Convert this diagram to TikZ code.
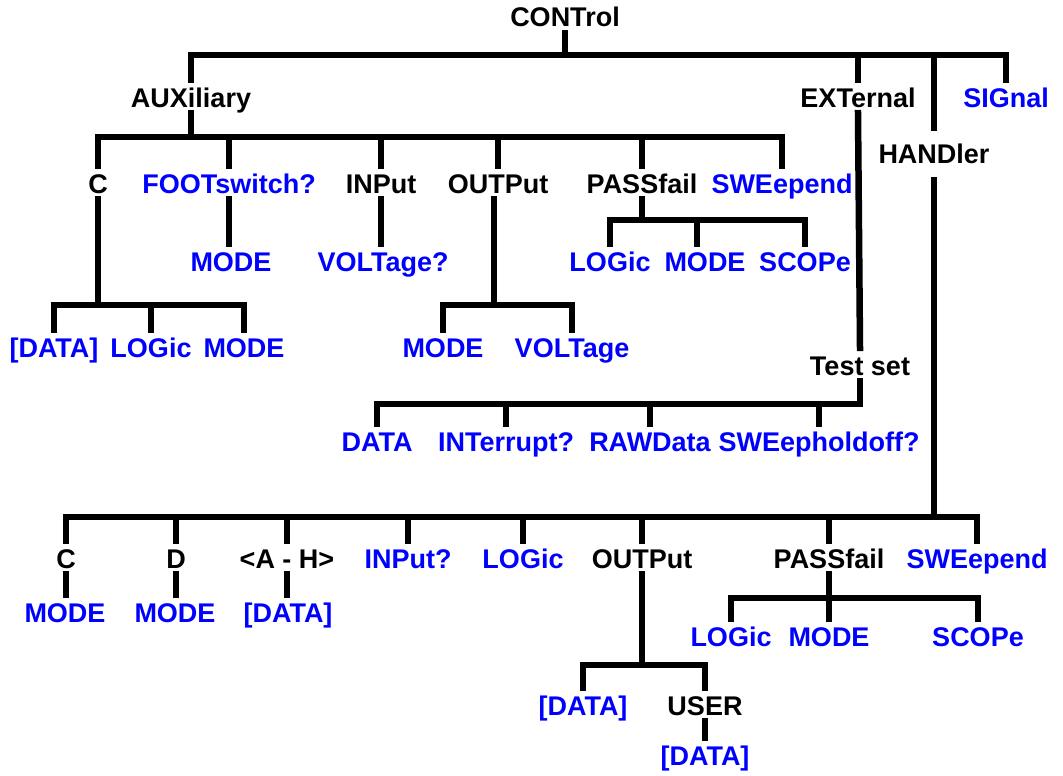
\documentclass[tikz,border=0pt]{standalone}
\usepackage{fontspec}
\setmainfont{Liberation Sans}
\tikzset{
  lab/.style={font=\bfseries\fontsize{27}{29}\selectfont, text height=27pt, text depth=6pt, inner xsep=0pt, inner ysep=0pt, anchor=base},
  kw/.style={lab, text=black},
  cmd/.style={lab, text=blue},
  wire/.style={line width=6.5pt, line cap=rect, line join=miter}
}
\begin{document}
\begin{tikzpicture}[x=1pt,y=-1pt]
\useasboundingbox (0,0) rectangle (1063,776);
% root
\node[kw] (ctrl) at (565,27) {CONTrol};
\node[kw] (aux) at (191,107) {AUXiliary};
\node[kw] (ext) at (858,107) {EXTernal};
\node[cmd] (sig) at (1006,107) {SIGnal};
\node[kw] (hand) at (934,163) {HANDler};
% AUXiliary children
\node[kw] (ac) at (98,193) {C};
\node[cmd] (afoot) at (229,193) {FOOTswitch?};
\node[kw] (ainp) at (381,193) {INPut};
\node[kw] (aout) at (498,193) {OUTPut};
\node[kw] (apass) at (642,193) {PASSfail};
\node[cmd] (asweep) at (782,193) {SWEepend};
\node[cmd] (afmode) at (231,271) {MODE};
\node[cmd] (ainvolt) at (383,271) {VOLTage?};
\node[cmd] (aplog) at (610,271) {LOGic};
\node[cmd] (apmode) at (705,271) {MODE};
\node[cmd] (apscope) at (805,271) {SCOPe};
\node[cmd] (acdata) at (54,357) {[DATA]};
\node[cmd] (aclog) at (151,357) {LOGic};
\node[cmd] (acmode) at (244,357) {MODE};
\node[cmd] (aomode) at (443,357) {MODE};
\node[cmd] (aovolt) at (572,357) {VOLTage};
% EXTernal
\node[kw] (test) at (860,375) {Test set};
\node[cmd] (tdata) at (377,451) {DATA};
\node[cmd] (tint) at (506,451) {INTerrupt?};
\node[cmd] (traw) at (650,451) {RAWData};
\node[cmd] (tsweep) at (819,451) {SWEepholdoff?};
% HANDler
\node[kw] (hc) at (66,568) {C};
\node[kw] (hd) at (176,568) {D};
\node[kw] (hah) at (287,568) {<A - H>};
\node[cmd] (hinp) at (408,568) {INPut?};
\node[cmd] (hlog) at (523,568) {LOGic};
\node[kw] (hout) at (642,568) {OUTPut};
\node[kw] (hpass) at (829,568) {PASSfail};
\node[cmd] (hsweep) at (977,568) {SWEepend};
\node[cmd] (hcmode) at (65,622) {MODE};
\node[cmd] (hdmode) at (175,622) {MODE};
\node[cmd] (hahdata) at (288,622) {[DATA]};
\node[cmd] (hplog) at (731,646) {LOGic};
\node[cmd] (hpmode) at (829,646) {MODE};
\node[cmd] (hpscope) at (978,646) {SCOPe};
\node[cmd] (hodata) at (583,715) {[DATA]};
\node[kw] (houser) at (705,715) {USER};
\node[cmd] (huserdata) at (705,765) {[DATA]};
% ---- connectors ----
% CONTrol
\draw[wire] (ctrl.south) -- (ctrl.south |- 0,55);
\draw[wire] (aux.north) -- (aux.north |- 0,55) -- (sig.north |- 0,55) -- (sig.north);
\draw[wire] (ext.north) -- (ext.north |- 0,55);
\draw[wire] ([yshift=8pt]hand.north) -- (hand.north |- 0,55);
% AUXiliary
\draw[wire] (aux.south) -- (aux.south |- 0,137);
\draw[wire] (ac.north) -- (ac.north |- 0,137) -- (asweep.north |- 0,137) -- (asweep.north);
\foreach \n in {afoot,ainp,aout,apass} \draw[wire] (\n.north |- 0,137) -- (\n.north);
\draw[wire] (afoot.south) -- (afmode.north -| afoot.south);
\draw[wire] (ainp.south) -- (ainvolt.north -| ainp.south);
% C
\draw[wire] (ac.south) -- (ac.south |- 0,305);
\draw[wire] (acdata.north) -- (acdata.north |- 0,305) -- (acmode.north |- 0,305) -- (acmode.north);
\draw[wire] (aclog.north |- 0,305) -- (aclog.north);
% OUTPut
\draw[wire] ([xshift=-4pt]aout.south) -- ([xshift=-4pt]aout.south |- 0,305);
\draw[wire] (aomode.north) -- (aomode.north |- 0,305) -- (aovolt.north |- 0,305) -- (aovolt.north);
% PASSfail
\draw[wire] (apass.south) -- (apass.south |- 0,220);
\draw[wire] (aplog.north) -- (aplog.north |- 0,220) -- (apscope.north |- 0,220) -- (apscope.north);
\draw[wire] ([xshift=-8pt]apmode.north |- 0,220) -- ([xshift=-8pt]apmode.north);
% EXTernal
\draw[wire] (ext.south) -- (test.north);
\draw[wire] (tdata.north) -- (tdata.north |- 0,404) -- (test.south |- 0,404) -- (test.south);
\foreach \n in {tint,traw,tsweep} \draw[wire] (\n.north |- 0,404) -- (\n.north);
% HANDler
\draw[wire] ([yshift=-11pt]hand.south) -- (hand.south |- 0,517);
\draw[wire] (hc.north) -- (hc.north |- 0,517) -- (hsweep.north |- 0,517) -- (hsweep.north);
\foreach \n in {hd,hah,hinp,hlog,hout,hpass} \draw[wire] (\n.north |- 0,517) -- (\n.north);
\draw[wire] (hc.south) -- (hcmode.north -| hc.south);
\draw[wire] (hd.south) -- (hdmode.north -| hd.south);
\draw[wire] (hah.south) -- (hahdata.north -| hah.south);
% HANDler OUTPut
\draw[wire] (hout.south) -- (hout.south |- 0,665);
\draw[wire] (hodata.north) -- (hodata.north |- 0,665) -- (houser.north |- 0,665) -- (houser.north);
\draw[wire] (houser.south) -- (huserdata.north);
% HANDler PASSfail
\draw[wire] (hpass.south) -- (hpmode.north);
\draw[wire] (hplog.north) -- (hplog.north |- 0,598) -- (hpscope.north |- 0,598) -- (hpscope.north);
\end{tikzpicture}
\end{document}
